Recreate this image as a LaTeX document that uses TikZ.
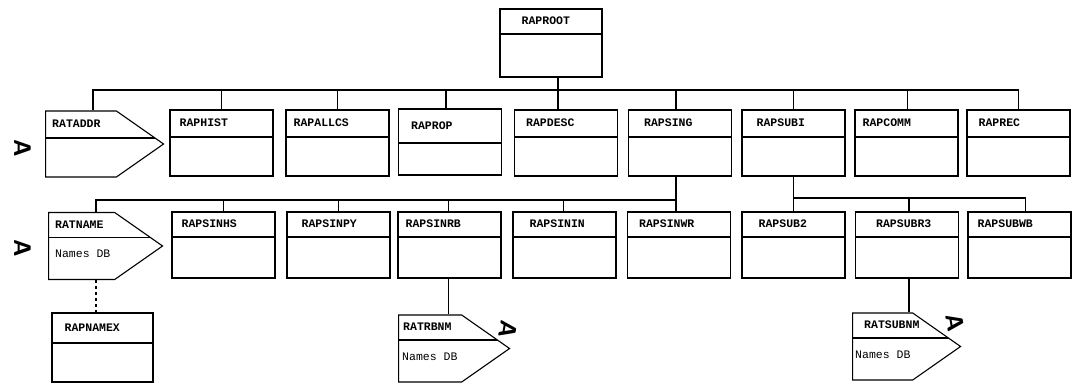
\documentclass[tikz,border=0pt]{standalone}
\usepackage{fontspec}
\newfontfamily\tyfont{Liberation Mono}
\usetikzlibrary{shapes.symbols}

\tikzset{
  hdr/.store in=\hdr, hdr=27pt,
  link/.style={line width=1.1pt},
  modbox/.style={draw, line width=1.1pt, minimum width=103pt, minimum height=66pt, inner sep=0pt,
    path picture={\draw[line width=1.1pt]
      ([yshift=-\hdr]path picture bounding box.north west) --
      ([yshift=-\hdr]path picture bounding box.north east);}},
  dbbox/.style={modbox, signal, signal to=east, signal pointer angle=70, anchor=west},
  hdrtext/.style={anchor=west, yshift={-0.5*\hdr}, inner sep=0pt,
    font=\tyfont\bfseries\fontsize{11.5}{13}\selectfont},
  dbtext/.style={anchor=west, yshift={-\hdr-17pt}, inner sep=0pt,
    font=\tyfont\fontsize{11.5}{13}\selectfont},
  handmark/.style={inner sep=0pt, font=\sffamily\bfseries\fontsize{24}{24}\selectfont},
}

\begin{document}
\begin{tikzpicture}[x=1pt,y=-1pt]
\useasboundingbox (0,0) rectangle (1072,385);
\coordinate (b1) at (0,90);
\coordinate (b2) at (0,200);
\coordinate (b3) at (0,198);

% root
\begin{scope}[hdr=25pt]
  \node[modbox, minimum width=102pt, minimum height=68pt] (root) at (551,43) {};
  \node[hdrtext, xshift=22pt] (root-t) at (root.north west) {RAPROOT};
\end{scope}

% first level
\begin{scope}[hdr=27pt]
  \node[dbbox, minimum width=118pt] (ratadr) at (45,144) {};
  \node[hdrtext, xshift=7pt] (ratadr-t) at (ratadr.north west) {RATADDR};
  \foreach \n/\x/\t/\d in {raphist/221.5/RAPHIST/10, rapallcs/337.5/RAPALLCS/8,
      rapdesc/566/RAPDESC/12, rapsing/680/RAPSING/16, rapsubi/793.5/RAPSUBI/15,
      rapcomm/906.5/RAPCOMM/8, raprec/1018.5/RAPREC/12}{
    \node[modbox] (\n) at (\x,143) {};
    \node[hdrtext, xshift=\d pt] (\n-t) at (\n.north west) {\t};
  }
\end{scope}
\begin{scope}[hdr=34pt]
  \node[modbox] (raprop) at (450,142) {};
  \node[hdrtext, xshift=13pt] (raprop-t) at (raprop.north west) {RAPROP};
\end{scope}

% second level
\begin{scope}[hdr=25pt]
  \node[dbbox, minimum width=114pt, minimum height=67pt] (ratname) at (48,246) {};
  \node[hdrtext, xshift=7pt] (ratname-t) at (ratname.north west) {RATNAME};
  \node[dbtext, xshift=7pt] (ratname-d) at (ratname.north west) {Names DB};
  \foreach \n/\x/\t/\d in {rapsinhs/223.5/RAPSINHS/10, rapsinpy/338.5/RAPSINPY/15,
      rapsinrb/449.5/RAPSINRB/8, rapsinin/564.5/RAPSININ/17, rapsinwr/679/RAPSINWR/12,
      rapsubtwo/793.5/RAPSUB2/17, rapsubrthree/907/RAPSUBR3/21, rapsubwb/1019.5/RAPSUBWB/10}{
    \node[modbox] (\n) at (\x,245) {};
    \node[hdrtext, xshift=\d pt] (\n-t) at (\n.north west) {\t};
  }
\end{scope}

% third level
\begin{scope}[hdr=30pt]
  \node[modbox, minimum width=101pt, minimum height=69pt] (rapnamex) at (102.5,347.5) {};
  \node[hdrtext, xshift=13pt] (rapnamex-t) at (rapnamex.north west) {RAPNAMEX};
\end{scope}
\begin{scope}[hdr=25pt]
  \node[dbbox, minimum width=111pt, minimum height=67pt] (ratrbnm) at (398,348.5) {};
  \node[hdrtext, xshift=5pt] (ratrbnm-t) at (ratrbnm.north west) {RATRBNM};
  \node[dbtext, xshift=4pt] (ratrbnm-d) at (ratrbnm.north west) {Names DB};
  \node[dbbox, minimum width=108pt, minimum height=67pt] (ratsubnm) at (852,346.5) {};
  \node[hdrtext, xshift=12pt] (ratsubnm-t) at (ratsubnm.north west) {RATSUBNM};
  \node[dbtext, xshift=3pt] (ratsubnm-d) at (ratsubnm.north west) {Names DB};
\end{scope}

% connectors
\draw[link] ([xshift=7pt]root.south) -- ([xshift=7pt]root.south |- b1);
\draw[link] ([xshift=48pt]ratadr.north west) |- ([xshift=0pt]raprec.north |- b1);
\foreach \n/\d in {raphist/0, rapallcs/0, raprop/-4, rapdesc/-8,
    rapsing/-4, rapsubi/0, rapcomm/1, raprec/0}
  \draw[link] ([xshift=\d pt]\n.north) -- ([xshift=\d pt]\n.north |- b1);
\draw[link] ([xshift=-4pt]rapsing.south) -- ([xshift=-4pt]rapsing.south |- rapsinwr.north);
\draw[link] ([xshift=48pt]ratname.north west) |- ([xshift=-4pt]rapsing.south |- b2);
\foreach \n/\d in {rapsinhs/0, rapsinpy/0, rapsinrb/-1, rapsinin/-1}
  \draw[link] ([xshift=\d pt]\n.north) -- ([xshift=\d pt]\n.north |- b2);
\draw[link] (rapsubi.south) -- (rapsubtwo.north);
\draw[link] (rapsubi.south |- b3) -- ([xshift=6pt]rapsubwb.north |- b3);
\foreach \n/\d in {rapsubrthree/2, rapsubwb/6}
  \draw[link] ([xshift=\d pt]\n.north) -- ([xshift=\d pt]\n.north |- b3);
\draw[link, dashed] ([xshift=48pt]ratname.south west) -- ([xshift=48pt]ratname.south west |- rapnamex.north);
\draw[link] ([xshift=-1pt]rapsinrb.south) -- ([xshift=-1pt]rapsinrb.south |- ratrbnm.north);
\draw[link] ([xshift=2pt]rapsubrthree.south) -- ([xshift=2pt]rapsubrthree.south |- ratsubnm.north);

% hand marks
\node[handmark, rotate=-90] (mka) at (23,148) {A};
\node[handmark, rotate=-90] (mkb) at (23,248) {A};
\node[handmark, rotate=-100] (mkc) at (508,330) {A};
\node[handmark, rotate=-80] (mkd) at (955,323) {A};
\end{tikzpicture}
\end{document}
